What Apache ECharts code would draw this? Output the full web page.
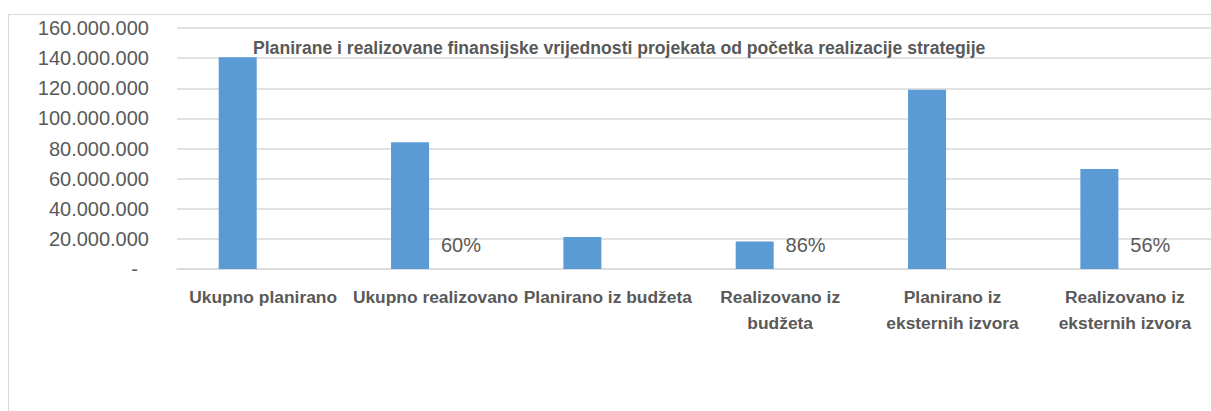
<!DOCTYPE html>
<html>
<head>
<meta charset="utf-8">
<script src="https://cdn.jsdelivr.net/npm/echarts@6/dist/echarts.min.js"></script>
<style>
  html, body { margin: 0; padding: 0; background: #fff; }
  #chart { width: 1211px; height: 411px; }
</style>
</head>
<body>
<div id="chart"></div>
<script>
// ====== Data ======
var categories = [
  'Ukupno planirano',
  'Ukupno realizovano',
  'Planirano iz budžeta',
  'Realizovano iz\nbudžeta',
  'Planirano iz\neksternih izvora',
  'Realizovano iz\neksternih izvora'
];
var amounts = [140600000, 84100000, 21300000, 18300000, 119000000, 66400000];
var shares = [null, 0.60, null, 0.86, null, 0.56];
var titleText = 'Planirane i realizovane finansijske vrijednosti projekata od početka realizacije strategije';

(function() {
  var ink = '#595959';
  var rule = '#d9d9d9';
  var font = 'Liberation Sans';

  var chart = echarts.init(document.getElementById('chart'), null, { renderer: 'svg' });

  function fmt(v) {
    if (v === 0) return '-  ';
    return String(v).replace(/\B(?=(\d{3})+(?!\d))/g, '.');
  }

  chart.setOption({
    animation: false,
    textStyle: { fontFamily: font },
    title: {
      text: titleText,
      left: 248, top: 34,
      textStyle: { color: ink, fontSize: 17.6, fontWeight: 'bold', fontFamily: font }
    },
    graphic: [{
      type: 'rect', silent: true, z: -1,
      shape: { x: 8.5, y: 14.5, width: 1400, height: 600 },
      style: { fill: 'none', stroke: rule, lineWidth: 1 }
    }],
    grid: { left: 177, right: -5, top: 28, bottom: 142, containLabel: false },
    xAxis: {
      type: 'category',
      data: categories,
      axisTick: { show: false },
      axisLine: { lineStyle: { color: rule, width: 1.5 } },
      axisLabel: {
        color: ink, fontSize: 17.4, fontWeight: 'bold', lineHeight: 26,
        margin: 15, interval: 0, fontFamily: font
      }
    },
    yAxis: {
      type: 'value',
      min: 0, max: 160000000, interval: 20000000,
      axisLine: { show: false },
      axisTick: { show: false },
      splitLine: { lineStyle: { color: rule, width: 1.5 } },
      axisLabel: { color: ink, fontSize: 20, margin: 28, formatter: fmt, fontFamily: font }
    },
    series: [
      {
        type: 'bar',
        data: amounts,
        barWidth: 38,
        barGap: '34%',
        itemStyle: { color: '#5b9bd5' }
      },
      {
        type: 'bar',
        data: shares,
        barWidth: 38,
        barGap: '34%',
        itemStyle: { color: 'rgba(0,0,0,0)' },
        label: {
          show: true, position: 'top', distance: 14,
          color: ink, fontSize: 20, fontFamily: font,
          formatter: function(p) { return Math.round(p.value * 100) + '%'; }
        }
      }
    ]
  });
})();
</script>
</body>
</html>
